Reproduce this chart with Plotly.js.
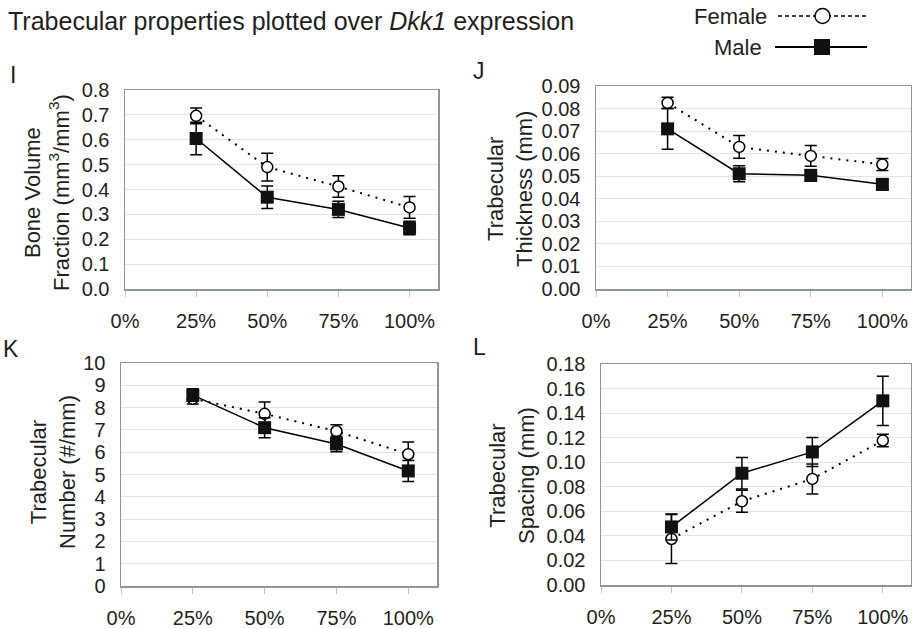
<!DOCTYPE html>
<html>
<head>
<meta charset="utf-8">
<script src="https://cdn.plot.ly/plotly-3.0.1.min.js"></script>
<style>html,body{margin:0;padding:0;background:#fff}#chart{width:912px;height:629px}</style>
</head>
<body>
<div id="chart"></div>
<script>
// ---- data ----
const xLevels = [0.25, 0.5, 0.75, 1.0];
const xTickVals = [0, 0.25, 0.5, 0.75, 1.0];
const xTickText = ['0%', '25%', '50%', '75%', '100%'];

// I: Bone volume fraction
const bvFemale = [0.696, 0.490, 0.412, 0.328];
const bvFemaleErr = [0.032, 0.056, 0.043, 0.044];
const bvMale = [0.605, 0.369, 0.320, 0.245];
const bvMaleErr = [0.065, 0.045, 0.033, 0.027];

// J: Trabecular thickness
const thFemale = [0.0825, 0.0630, 0.0590, 0.0552];
const thFemaleErr = [0.0025, 0.0050, 0.0046, 0.0027];
const thMale = [0.0710, 0.0511, 0.0504, 0.0464];
const thMaleErr = [0.0090, 0.0035, 0.0025, 0.0025];

// K: Trabecular number
const tnFemale = [8.40, 7.72, 6.94, 5.91];
const tnFemaleErr = [0.24, 0.53, 0.29, 0.55];
const tnMale = [8.56, 7.10, 6.37, 5.16];
const tnMaleErr = [0.28, 0.45, 0.35, 0.47];

// L: Trabecular spacing
const spFemale = [0.0375, 0.0682, 0.0864, 0.1177];
const spFemaleErr = [0.0200, 0.0090, 0.0122, 0.0050];
const spMale = [0.0473, 0.0910, 0.1084, 0.1500];
const spMaleErr = [0.0106, 0.0128, 0.0118, 0.0200];

const seriesNames = ['Female', 'Male'];
const titleText = 'Trabecular properties plotted over <i>Dkk1</i> expression';

// ---- style ----
const W = 912, H = 629;
const FONT = 'Liberation Sans, Arial, sans-serif';
const TXT = '#231f20';
const FRAME = '#8e94a3';
const GRID = '#e4e4e4';
const px = x => x / W;
const py = y => 1 - y / H;

function femaleTrace(y, e, xa, ya) {
  return {x: xLevels, y: y, xaxis: xa, yaxis: ya, type: 'scatter', mode: 'lines+markers',
    name: seriesNames[0], showlegend: false,
    line: {color: '#000', width: 2, dash: '2px,6px'},
    marker: {symbol: 'circle', size: 11, color: '#fff', line: {color: '#000', width: 1.5}},
    error_y: {type: 'data', array: e, visible: true, color: '#000', thickness: 1.5, width: 6}};
}
function maleTrace(y, e, xa, ya) {
  return {x: xLevels, y: y, xaxis: xa, yaxis: ya, type: 'scatter', mode: 'lines+markers',
    name: seriesNames[1], showlegend: false,
    line: {color: '#000', width: 1.5},
    marker: {symbol: 'square', size: 13, color: '#111', line: {color: '#000', width: 0}},
    error_y: {type: 'data', array: e, visible: true, color: '#000', thickness: 1.5, width: 6}};
}

const data = [
  femaleTrace(bvFemale, bvFemaleErr, 'x', 'y'),  maleTrace(bvMale, bvMaleErr, 'x', 'y'),
  femaleTrace(thFemale, thFemaleErr, 'x2', 'y2'), maleTrace(thMale, thMaleErr, 'x2', 'y2'),
  femaleTrace(tnFemale, tnFemaleErr, 'x3', 'y3'), maleTrace(tnMale, tnMaleErr, 'x3', 'y3'),
  femaleTrace(spFemale, spFemaleErr, 'x4', 'y4'), maleTrace(spMale, spMaleErr, 'x4', 'y4')
];

function xAxis(dom, anchor) {
  return {domain: dom, anchor: anchor, range: [0, 1.1], tickmode: 'array',
    tickvals: xTickVals, ticktext: xTickText, ticks: 'outside', ticklen: 6,
    tickcolor: '#c4c4c4', tickwidth: 1, ticklabelstandoff: 7,
    showgrid: false, zeroline: false, showline: true, mirror: true,
    linecolor: FRAME, linewidth: 1.5, tickfont: {size: 20, color: TXT, family: FONT}, fixedrange: true};
}
function yAxis(dom, anchor, range, dtick, fmt) {
  return {domain: dom, anchor: anchor, range: range, dtick: dtick, tick0: 0, tickformat: fmt,
    ticks: '', ticklabelstandoff: 10, showgrid: true, gridcolor: GRID, gridwidth: 1,
    zeroline: false, showline: true, mirror: true, linecolor: FRAME, linewidth: 1.5,
    tickfont: {size: 20, color: TXT, family: FONT}, fixedrange: true};
}

function ann(text, x, y, opts) {
  return Object.assign({text: text, x: px(x), y: py(y), xref: 'paper', yref: 'paper',
    showarrow: false, font: {size: 22, color: TXT, family: FONT}}, opts || {});
}

const annotations = [
  ann('I', 8, 75, {xanchor: 'left', yanchor: 'middle', font: {size: 23, color: TXT, family: FONT}}),
  ann('J', 471, 71, {xanchor: 'left', yanchor: 'middle', font: {size: 23, color: TXT, family: FONT}}),
  ann('K', 1, 349, {xanchor: 'left', yanchor: 'middle', font: {size: 23, color: TXT, family: FONT}}),
  ann('L', 471, 347, {xanchor: 'left', yanchor: 'middle', font: {size: 23, color: TXT, family: FONT}}),
  ann('Bone Volume<br>Fraction (mm<sup>3</sup>/mm<sup>3</sup>)', 47, 193, {textangle: -90, xanchor: 'center', yanchor: 'middle'}),
  ann('Trabecular<br>Thickness (mm)', 510, 189, {textangle: -90, xanchor: 'center', yanchor: 'middle'}),
  ann('Trabecular<br>Number (#/mm)', 53, 472, {textangle: -90, xanchor: 'center', yanchor: 'middle'}),
  ann('Trabecular<br>Spacing (mm)', 512, 476, {textangle: -90, xanchor: 'center', yanchor: 'middle'}),
  // legend labels
  ann(seriesNames[0], 769, 16, {xanchor: 'right', yanchor: 'middle'}),
  ann(seriesNames[1], 764, 47, {xanchor: 'right', yanchor: 'middle'})
];

// legend glyphs (decoration)
const shapes = [
  {type: 'line', xref: 'paper', yref: 'paper', x0: px(778), x1: px(867), y0: py(16), y1: py(16),
   line: {color: '#000', width: 1.5, dash: '4px,3px'}},
  {type: 'circle', xref: 'paper', yref: 'paper', x0: px(815), x1: px(830), y0: py(8.5), y1: py(23.5),
   fillcolor: '#fff', line: {color: '#000', width: 1.5}},
  {type: 'line', xref: 'paper', yref: 'paper', x0: px(775), x1: px(867), y0: py(47), y1: py(47),
   line: {color: '#000', width: 2}},
  {type: 'rect', xref: 'paper', yref: 'paper', x0: px(814), x1: px(830), y0: py(39), y1: py(55),
   fillcolor: '#111', line: {color: '#000', width: 0}}
];

const layout = {
  width: W, height: H, margin: {l: 0, r: 0, t: 0, b: 0},
  paper_bgcolor: '#fff', plot_bgcolor: '#fff', showlegend: false,
  font: {family: FONT, color: TXT},
  title: {text: titleText, x: px(8), xanchor: 'left', xref: 'paper', y: py(21), yref: 'paper', yanchor: 'middle',
          font: {size: 25, color: TXT, family: FONT}},
  xaxis: xAxis([px(125), px(438)], 'y'),
  yaxis: yAxis([py(289), py(90)], 'x', [0, 0.8], 0.1, '.1f'),
  xaxis2: xAxis([px(596), px(911)], 'y2'),
  yaxis2: yAxis([py(289), py(86)], 'x2', [0, 0.09], 0.01, '.2f'),
  xaxis3: xAxis([px(121), px(437)], 'y3'),
  yaxis3: yAxis([py(586), py(363)], 'x3', [0, 10], 1, 'd'),
  xaxis4: xAxis([px(601), px(911)], 'y4'),
  yaxis4: yAxis([py(585), py(364)], 'x4', [0, 0.18], 0.02, '.2f'),
  annotations: annotations,
  shapes: shapes
};

Plotly.newPlot('chart', data, layout, {staticPlot: true, displayModeBar: false});
</script>
</body>
</html>
